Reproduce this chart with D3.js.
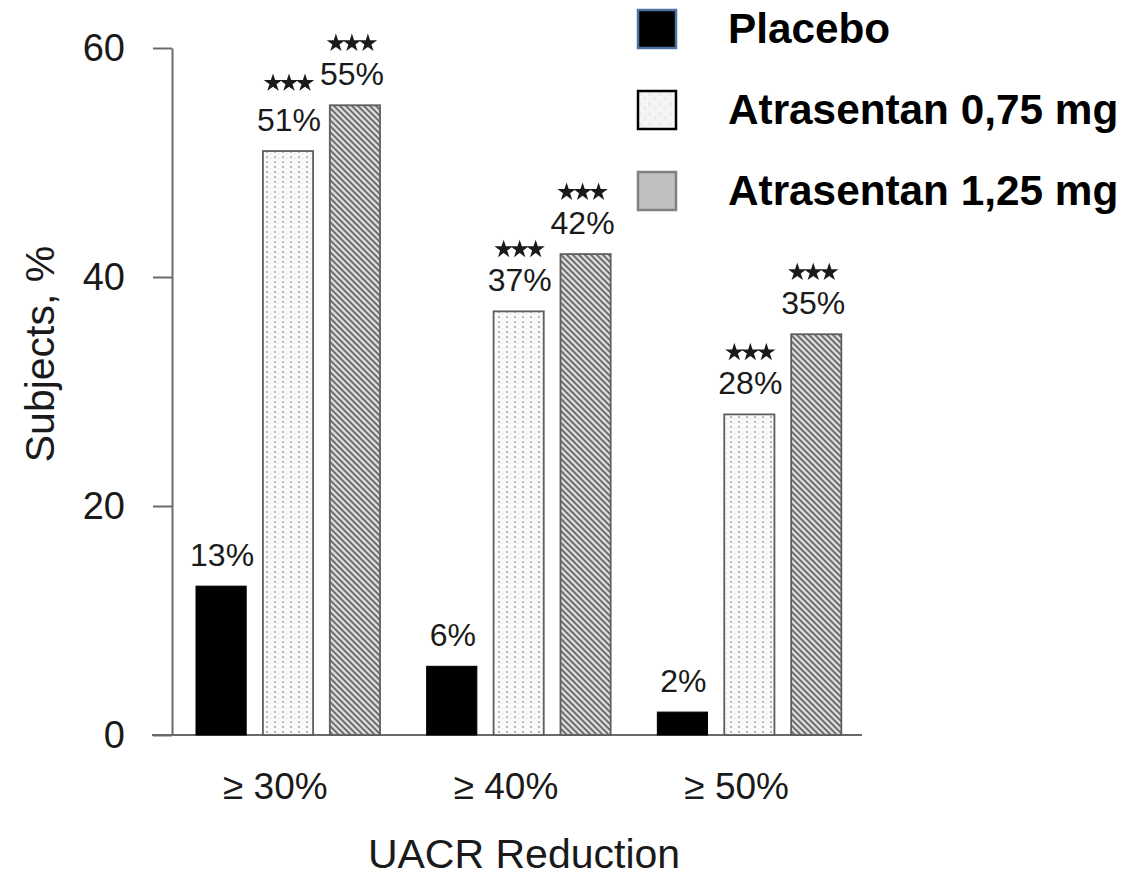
<!DOCTYPE html>
<html>
<head>
<meta charset="utf-8">
<script src="https://cdn.jsdelivr.net/npm/d3@7"></script>
<style>
  html, body { margin: 0; padding: 0; background: #fff; }
  svg { display: block; }
  text { font-family: "Liberation Sans", Arial, Helvetica, sans-serif; }
</style>
</head>
<body>
<svg id="chart" width="1143" height="878"></svg>
<script>
// UACR reduction responders by treatment arm
const categories = ["≥ 30%", "≥ 40%", "≥ 50%"];
const seriesNames = ["Placebo", "Atrasentan 0,75 mg", "Atrasentan 1,25 mg"];
const placeboValues = [13, 6, 2];
const atr075Values = [51, 37, 28];
const atr125Values = [55, 42, 35];
const significant = [false, true, true];   // *** marks per series
const yTicks = [0, 20, 40, 60];
const yLabel = "Subjects, %";
const xLabel = "UACR Reduction";

const seriesValues = [placeboValues, atr075Values, atr125Values];

const svg = d3.select("#chart");
const defs = svg.append("defs");

// dotted fill for the 0,75 mg bars
const dots = defs.append("pattern")
  .attr("id", "dots").attr("patternUnits", "userSpaceOnUse")
  .attr("width", 8).attr("height", 5);
dots.append("rect").attr("width", 8).attr("height", 5).attr("fill", "#fafafa");
dots.append("rect").attr("x", 2).attr("y", 1).attr("width", 2).attr("height", 2).attr("fill", "#b8b8b8");
dots.append("rect").attr("x", 6).attr("y", 3).attr("width", 1).attr("height", 1).attr("fill", "#d6d6d6");

// diagonal hatch for the 1,25 mg bars
const hatch = defs.append("pattern")
  .attr("id", "hatch").attr("patternUnits", "userSpaceOnUse")
  .attr("width", 6).attr("height", 6);
hatch.append("rect").attr("width", 6).attr("height", 6).attr("fill", "#d8d8d8");
hatch.append("path")
  .attr("d", "M0,0 L6,6 M-1,5 L1,7 M5,-1 L7,1")
  .attr("stroke", "#666").attr("stroke-width", 1.7);

// mottled light fill for the legend swatch
const mottle = defs.append("pattern")
  .attr("id", "mottle").attr("patternUnits", "userSpaceOnUse")
  .attr("width", 10).attr("height", 10);
mottle.append("rect").attr("width", 10).attr("height", 10).attr("fill", "#f5f5f5");
mottle.append("circle").attr("cx", 3).attr("cy", 4).attr("r", 2).attr("fill", "#ececec");
mottle.append("circle").attr("cx", 8).attr("cy", 8).attr("r", 1.5).attr("fill", "#e9e9e9");

const barStyles = [
  { fill: "#000", stroke: "#000", sw: 1 },
  { fill: "url(#dots)", stroke: "#5e5e5e", sw: 1.8 },
  { fill: "url(#hatch)", stroke: "#5e5e5e", sw: 1.8 }
];

const x0 = d3.scaleBand().domain(categories).range([172, 864]).padding(0);
const x1 = d3.scaleBand().domain(seriesNames).range([24, 208]).paddingInner(0.25).paddingOuter(0);
const y = d3.scaleLinear().domain([0, 60]).range([735, 48]);

// y axis
const yAxis = svg.append("g")
  .attr("transform", `translate(${x0.range()[0]},0)`)
  .call(d3.axisLeft(y).tickValues(yTicks).tickSize(19).tickSizeOuter(0).tickPadding(28));
yAxis.select(".domain").attr("stroke", "#6a6a6a").attr("stroke-width", 2);
yAxis.selectAll(".tick line").attr("stroke", "#6a6a6a").attr("stroke-width", 2);
yAxis.selectAll(".tick text")
  .attr("font-size", 38).attr("fill", "#1a1a1a")
  .attr("font-family", "'Liberation Sans', Arial, sans-serif");

// baseline
svg.append("line")
  .attr("x1", x0.range()[0] - 20).attr("x2", x0.range()[1] - 2)
  .attr("y1", y(0)).attr("y2", y(0))
  .attr("stroke", "#6a6a6a").attr("stroke-width", 2);

// bars
const flat = [];
categories.forEach((c, ci) => {
  seriesNames.forEach((s, si) => {
    flat.push({ cat: c, series: s, si, value: seriesValues[si][ci] });
  });
});

svg.append("g").selectAll("rect")
  .data(flat).join("rect")
  .attr("x", d => x0(d.cat) + x1(d.series))
  .attr("y", d => y(d.value))
  .attr("width", x1.bandwidth())
  .attr("height", d => y(0) - y(d.value))
  .attr("fill", d => barStyles[d.si].fill)
  .attr("stroke", d => barStyles[d.si].stroke)
  .attr("stroke-width", d => barStyles[d.si].sw);

// value labels
const labelX = d => x0(d.cat) + x1(d.series) + x1.bandwidth() / 2 + (d.si === 2 ? -3 : 1);
svg.append("g").selectAll("text")
  .data(flat).join("text")
  .attr("x", labelX)
  .attr("y", d => y(d.value) - 20)
  .attr("text-anchor", "middle")
  .attr("font-size", 32)
  .attr("fill", "#1a1a1a")
  .text(d => d.value + "%");

// significance stars
const star = d3.symbol().type(d3.symbolStar).size(105);
const starred = flat.filter(d => significant[d.si]);
const starGroups = svg.append("g").selectAll("g")
  .data(starred).join("g")
  .attr("transform", d => {
    const cy = y(d.value) - 20 - 42 - (d.value === 51 ? 6 : 0);
    return `translate(${labelX(d)},${cy})`;
  });
starGroups.selectAll("path")
  .data([-16, 0, 16]).join("path")
  .attr("transform", dx => `translate(${dx},0)`)
  .attr("d", star)
  .attr("fill", "#1a1a1a");

// category labels
svg.append("g").selectAll("text")
  .data(categories).join("text")
  .attr("x", d => x0(d) + x0.bandwidth() / 2 - 12)
  .attr("y", 799)
  .attr("text-anchor", "middle")
  .attr("font-size", 37)
  .attr("fill", "#1a1a1a")
  .text(d => d);

// axis titles
svg.append("text")
  .attr("x", 524).attr("y", 868)
  .attr("text-anchor", "middle")
  .attr("font-size", 41)
  .attr("fill", "#1a1a1a")
  .text(xLabel);

svg.append("text")
  .attr("transform", "translate(54,354) rotate(-90)")
  .attr("text-anchor", "middle")
  .attr("font-size", 41)
  .attr("fill", "#1a1a1a")
  .text(yLabel);

// legend
const legendStyles = [
  { fill: "#000", stroke: "#4d74a0" },
  { fill: "url(#mottle)", stroke: "#000" },
  { fill: "#c0c0c0", stroke: "#808080" }
];
const legendY = d3.scalePoint().domain(seriesNames).range([29, 191]);
const legend = svg.append("g").selectAll("g")
  .data(seriesNames).join("g")
  .attr("transform", d => `translate(637,${legendY(d)})`);
legend.append("rect")
  .attr("x", 1).attr("y", -19)
  .attr("width", 38).attr("height", 38)
  .attr("fill", (d, i) => legendStyles[i].fill)
  .attr("stroke", (d, i) => legendStyles[i].stroke)
  .attr("stroke-width", 2.5);
legend.append("text")
  .attr("x", 91).attr("y", 14)
  .attr("font-size", 42.3)
  .attr("font-weight", "bold")
  .attr("fill", "#000")
  .text(d => d);
</script>
</body>
</html>
